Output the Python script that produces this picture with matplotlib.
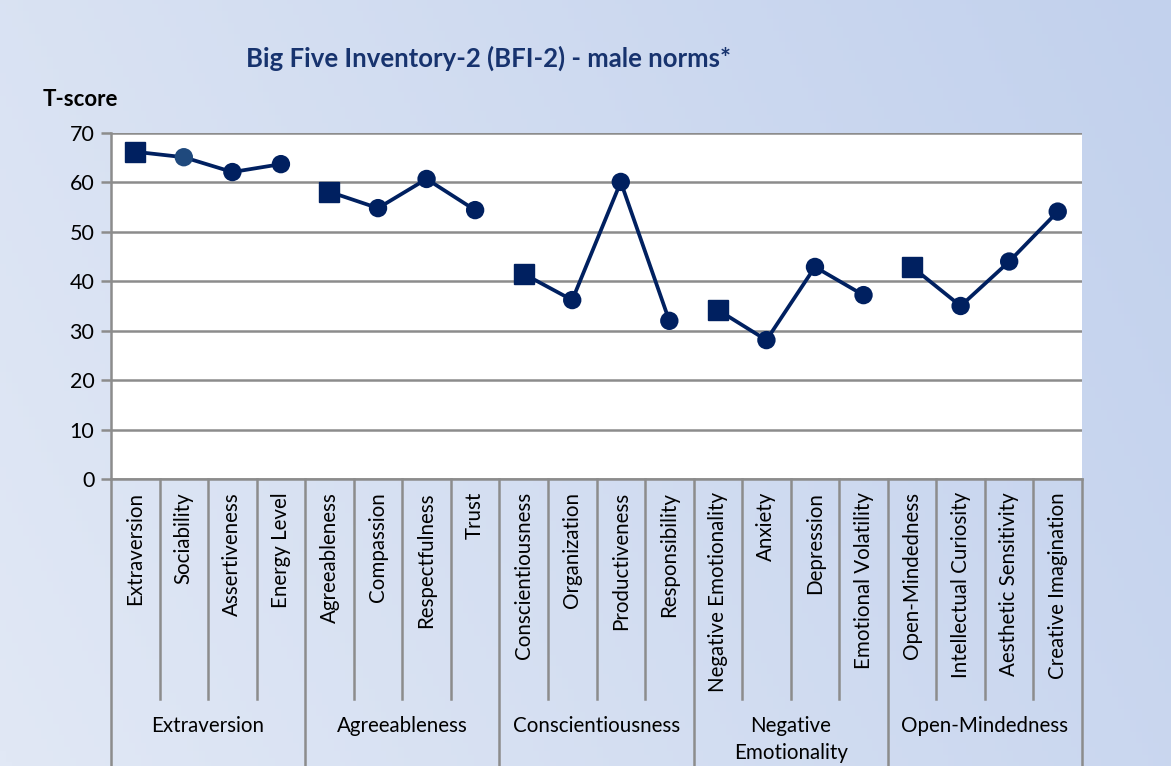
import numpy as np
import matplotlib.pyplot as plt
import matplotlib.transforms as mtransforms
from matplotlib.colors import LinearSegmentedColormap

plt.rcParams['font.family'] = ['Lato', 'DejaVu Sans']

scales = ["Extraversion", "Sociability", "Assertiveness", "Energy Level",
          "Agreeableness", "Compassion", "Respectfulness", "Trust",
          "Conscientiousness", "Organization", "Productiveness", "Responsibility",
          "Negative Emotionality", "Anxiety", "Depression", "Emotional Volatility",
          "Open-Mindedness", "Intellectual Curiosity", "Aesthetic Sensitivity", "Creative Imagination"]
tscores = [66.2, 65.1, 62.1, 63.7,
           58.1, 54.8, 60.7, 54.4,
           41.5, 36.2, 60.1, 32.0,
           34.2, 28.1, 42.9, 37.2,
           42.9, 35.0, 44.0, 54.1]
domains = ["Extraversion", "Agreeableness", "Conscientiousness", "Negative\nEmotionality", "Open-Mindedness"]
per_domain = 4

navy = "#002060"
grid_c = "#8c8c8c"

fig = plt.figure(figsize=(11.71, 7.66), dpi=100)

# gradient background
bg = fig.add_axes([0, 0, 1, 1], zorder=-10)
xx, yy = np.meshgrid(np.linspace(0, 1, 200), np.linspace(0, 1, 200))
grad = 0.75 * xx + 0.25 * yy
cmap = LinearSegmentedColormap.from_list("bg", ["#e1e8f5", "#c2d1ed"])
bg.imshow(grad, cmap=cmap, aspect="auto", extent=[0, 1, 0, 1], origin="lower")
bg.axis("off")

W, H = 1171, 766
left, right, top, bottom = 111, 1082, 133, 479
ax = fig.add_axes([left / W, 1 - bottom / H, (right - left) / W, (bottom - top) / H])
ax.set_facecolor("white")

n = len(scales)
x = np.arange(n)
ax.set_xlim(-0.5, n - 0.5)
ax.set_ylim(0, 70)
ax.set_yticks(range(0, 71, 10))
ax.yaxis.grid(True, color=grid_c, lw=1.8)
ax.set_axisbelow(True)
ax.tick_params(axis="y", length=7, width=1.8, color=grid_c, labelsize=15.5, pad=5)
ax.set_xticks([])
for s in ["top", "right", "bottom"]:
    ax.spines[s].set_visible(False)
ax.spines["left"].set_color(grid_c)
ax.spines["left"].set_linewidth(1.8)

for g in range(len(domains)):
    idx = x[g * per_domain:(g + 1) * per_domain]
    vals = tscores[g * per_domain:(g + 1) * per_domain]
    ax.plot(idx, vals, color=navy, lw=2.7, zorder=3)
    ax.plot(idx[0], vals[0], marker="s", ms=14, color=navy, ls="none", zorder=4)
    fc = ["#1f497d" if scales[i] == "Sociability" else navy for i in idx[1:]]
    ax.scatter(idx[1:], vals[1:], s=175, c=fc, marker="o", zorder=4, linewidths=0)

# category labels area
trans = mtransforms.blended_transform_factory(ax.transData, ax.transAxes)
ph = bottom - top
inner_y = -(699 - bottom) / ph
outer_y = -(H - bottom) / ph
ax.plot([-0.5, n - 0.5], [0, 0], transform=trans, color=grid_c, lw=1.8, clip_on=False)
for b in range(n + 1):
    xb = b - 0.5
    y2 = outer_y if b % per_domain == 0 else inner_y
    ax.plot([xb, xb], [0, y2], transform=trans, color=grid_c, lw=1.8, clip_on=False)

for i, name in enumerate(scales):
    ax.text(i, -(492 - bottom) / ph, name, transform=trans, rotation=90,
            ha="center", va="top", fontsize=14.8)

for g, name in enumerate(domains):
    ax.text(g * per_domain + 1.5, -(716 - bottom) / ph, name, transform=trans,
            ha="center", va="top", fontsize=14.8, linespacing=1.45)

fig.text(489 / W, 1 - 58 / H, "Big Five Inventory-2 (BFI-2) - male norms*",
         ha="center", va="center", fontsize=18.5, fontweight="bold", color="#17336e")
fig.text(80 / W, 1 - 100 / H, "T-score", ha="center", va="center",
         fontsize=16, fontweight="bold", color="black")

fig.savefig("out.png", dpi=100)
